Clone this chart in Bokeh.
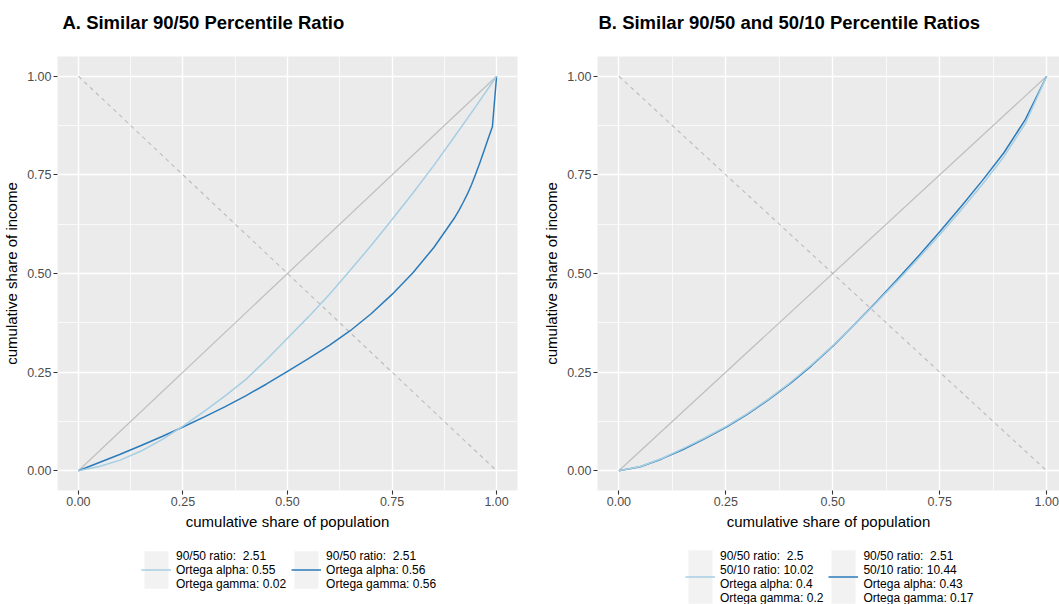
from bokeh.plotting import figure
from bokeh.layouts import row, column
from bokeh.models import Range1d, FixedTicker, Legend, LegendItem, NumeralTickFormatter, Title
from bokeh.embed import file_html
from bokeh.resources import INLINE

FONT = "Liberation Sans"

# ---- data -------------------------------------------------------------
tick_values = [0.0, 0.25, 0.5, 0.75, 1.0]
tick_labels = ["0.00", "0.25", "0.50", "0.75", "1.00"]
minor_tick_values = [0.125, 0.375, 0.625, 0.875]

equality_x = [0.0, 1.0]
equality_y = [0.0, 1.0]
anti_x = [0.0, 1.0]
anti_y = [1.0, 0.0]

# Panel A
a_light_x = [0.0, 0.05, 0.1, 0.15, 0.2, 0.25, 0.3, 0.35, 0.4, 0.45, 0.5,
             0.55, 0.6, 0.65, 0.7, 0.75, 0.8, 0.85, 0.9, 0.95, 1.0]
a_light_y = [0.0, 0.011, 0.027, 0.050, 0.079, 0.113, 0.150, 0.189, 0.231, 0.282, 0.336,
             0.390, 0.447, 0.508, 0.571, 0.637, 0.704, 0.774, 0.848, 0.923, 1.0]
a_dark_x = [0.0, 0.05, 0.1, 0.15, 0.2, 0.25, 0.3, 0.35, 0.4, 0.45, 0.5,
            0.55, 0.6, 0.65, 0.7, 0.75, 0.8, 0.85, 0.9, 0.91, 0.92, 0.93, 0.94,
            0.95, 0.96, 0.97, 0.98, 0.99, 1.0]
a_dark_y = [0.0, 0.021, 0.042, 0.064, 0.087, 0.111, 0.136, 0.162, 0.190, 0.220, 0.252,
            0.284, 0.318, 0.355, 0.398, 0.447, 0.502, 0.566, 0.642, 0.660, 0.680, 0.701,
            0.725, 0.752, 0.781, 0.811, 0.842, 0.872, 1.0]

# Panel B
b_light_x = [0.0, 0.05, 0.1, 0.15, 0.2, 0.25, 0.3, 0.35, 0.4, 0.45, 0.5,
             0.55, 0.6, 0.65, 0.7, 0.75, 0.8, 0.85, 0.9, 0.95, 1.0]
b_light_y = [0.0, 0.011, 0.031, 0.056, 0.083, 0.112, 0.145, 0.182, 0.223, 0.268, 0.317,
             0.370, 0.424, 0.480, 0.538, 0.598, 0.661, 0.726, 0.796, 0.880, 1.0]
b_dark_x = [0.0, 0.05, 0.1, 0.15, 0.2, 0.25, 0.3, 0.35, 0.4, 0.45, 0.5,
            0.55, 0.6, 0.65, 0.7, 0.75, 0.8, 0.85, 0.9, 0.95, 1.0]
b_dark_y = [0.0, 0.010, 0.030, 0.054, 0.081, 0.110, 0.143, 0.180, 0.221, 0.266, 0.316,
            0.370, 0.426, 0.484, 0.544, 0.606, 0.670, 0.736, 0.806, 0.890, 1.0]

title_a = "A. Similar 90/50 Percentile Ratio"
title_b = "B. Similar 90/50 and 50/10 Percentile Ratios"
x_title = "cumulative share of population"
y_title = "cumulative share of income"

labels_a = ["90/50 ratio:  2.51\nOrtega alpha: 0.55\nOrtega gamma: 0.02",
            "90/50 ratio:  2.51\nOrtega alpha: 0.56\nOrtega gamma: 0.56"]
labels_b = ["90/50 ratio:  2.5\n50/10 ratio: 10.02\nOrtega alpha: 0.4\nOrtega gamma: 0.2",
            "90/50 ratio:  2.51\n50/10 ratio: 10.44\nOrtega alpha: 0.43\nOrtega gamma: 0.17"]

LIGHT = "#A6CEE3"
DARK = "#2B7BBA"
GREY = "#BEBEBE"
KEY_BG = "#F2F2F2"
PLOT_H = 540
LEG_H = 604 - PLOT_H


def make_panel(title, title_offset, width, left, right, x_end, light_xy, dark_xy):
    p = figure(width=width, height=PLOT_H,
               x_range=Range1d(-0.05, x_end), y_range=Range1d(-0.05, 1.05),
               output_backend="svg", toolbar_location=None,
               min_border_left=left, min_border_right=right,
               min_border_top=56, min_border_bottom=PLOT_H - 490,
               background_fill_color="#EBEBEB", border_fill_color="white",
               outline_line_color=None,
               x_axis_label=x_title, y_axis_label=y_title)
    # spacer next to the frame, then the real title further out
    p.add_layout(Title(text=" ", text_font_size="1px", standoff=21), "above")
    p.add_layout(Title(text=title, text_font=FONT, text_font_size="18.5px",
                       text_font_style="bold", text_color="black",
                       offset=title_offset, standoff=0), "above")

    overrides = dict(zip(tick_values, tick_labels))
    for ax in (p.xaxis[0], p.yaxis[0]):
        ax.ticker = FixedTicker(ticks=tick_values, minor_ticks=minor_tick_values)
        ax.formatter = NumeralTickFormatter(format="0.00")
        ax.major_label_overrides = overrides
        ax.major_label_text_font = FONT
        ax.major_label_text_font_size = "12.5px"
        ax.major_label_text_color = "#4D4D4D"
        ax.axis_label_text_font = FONT
        ax.axis_label_text_font_size = "15px"
        ax.axis_label_text_font_style = "normal"
        ax.axis_label_text_color = "black"
        ax.axis_line_color = None
        ax.major_tick_line_color = "#333333"
        ax.major_tick_line_width = 1.1
        ax.major_tick_out = 4
        ax.major_tick_in = 0
        ax.minor_tick_line_color = None
        ax.major_label_standoff = 2
        ax.axis_label_standoff = 4
    for g in (p.xgrid[0], p.ygrid[0]):
        g.ticker = FixedTicker(ticks=tick_values, minor_ticks=minor_tick_values)
        g.grid_line_color = "white"
        g.grid_line_width = 1.4
        g.minor_grid_line_color = "white"
        g.minor_grid_line_width = 0.7

    p.line(equality_x, equality_y, line_color=GREY, line_width=1.2)
    p.line(anti_x, anti_y, line_color=GREY, line_width=1.2, line_dash="4 4")
    p.line(dark_xy[0], dark_xy[1], line_color=DARK, line_width=1.5)
    p.line(light_xy[0], light_xy[1], line_color=LIGHT, line_width=1.5)
    return p


def make_legend(width, labels, light_xy, dark_xy, glyph_h, leg_loc):
    # legend-only strip: its ranges lie away from the data, so the helper glyphs
    # that feed the legend keys stay out of view
    lf = figure(width=width, height=LEG_H, output_backend="svg", toolbar_location=None,
                x_axis_type=None, y_axis_type=None, min_border=0,
                outline_line_color=None, background_fill_color="white",
                border_fill_color="white", x_range=Range1d(5, 6), y_range=Range1d(5, 6))
    lf.grid.visible = False
    key_bg = lf.quad(left=equality_x[:1], right=equality_x[1:],
                     bottom=equality_y[:1], top=equality_y[1:],
                     fill_color=KEY_BG, line_color=None)
    k_light = lf.line(light_xy[0], light_xy[1], line_color=LIGHT, line_width=1.5)
    k_dark = lf.line(dark_xy[0], dark_xy[1], line_color=DARK, line_width=1.5)
    legend = Legend(items=[LegendItem(label=labels[0], renderers=[key_bg, k_light]),
                           LegendItem(label=labels[1], renderers=[key_bg, k_dark])],
                    location=leg_loc, orientation="horizontal",
                    glyph_width=30, glyph_height=glyph_h,
                    label_standoff=5, spacing=5, padding=0, margin=0,
                    border_line_color=None, background_fill_alpha=0,
                    label_text_font=FONT, label_text_font_size="12px",
                    label_text_line_height=1.0, label_text_color="black")
    lf.add_layout(legend)
    return lf


p1 = make_panel(title_a, 5, 530, 56, 13, 1.05, (a_light_x, a_light_y), (a_dark_x, a_dark_y))
p2 = make_panel(title_b, 1, 529, 67, 0, 1.03, (b_light_x, b_light_y), (b_dark_x, b_dark_y))
l1 = make_legend(530, labels_a, (a_light_x, a_light_y), (a_dark_x, a_dark_y), 47, (84, 11))
l2 = make_legend(529, labels_b, (b_light_x, b_light_y), (b_dark_x, b_dark_y), 67, (88, -6))

layout = row(column(p1, l1), column(p2, l2))
open("out.html", "w").write(file_html(layout, INLINE))
